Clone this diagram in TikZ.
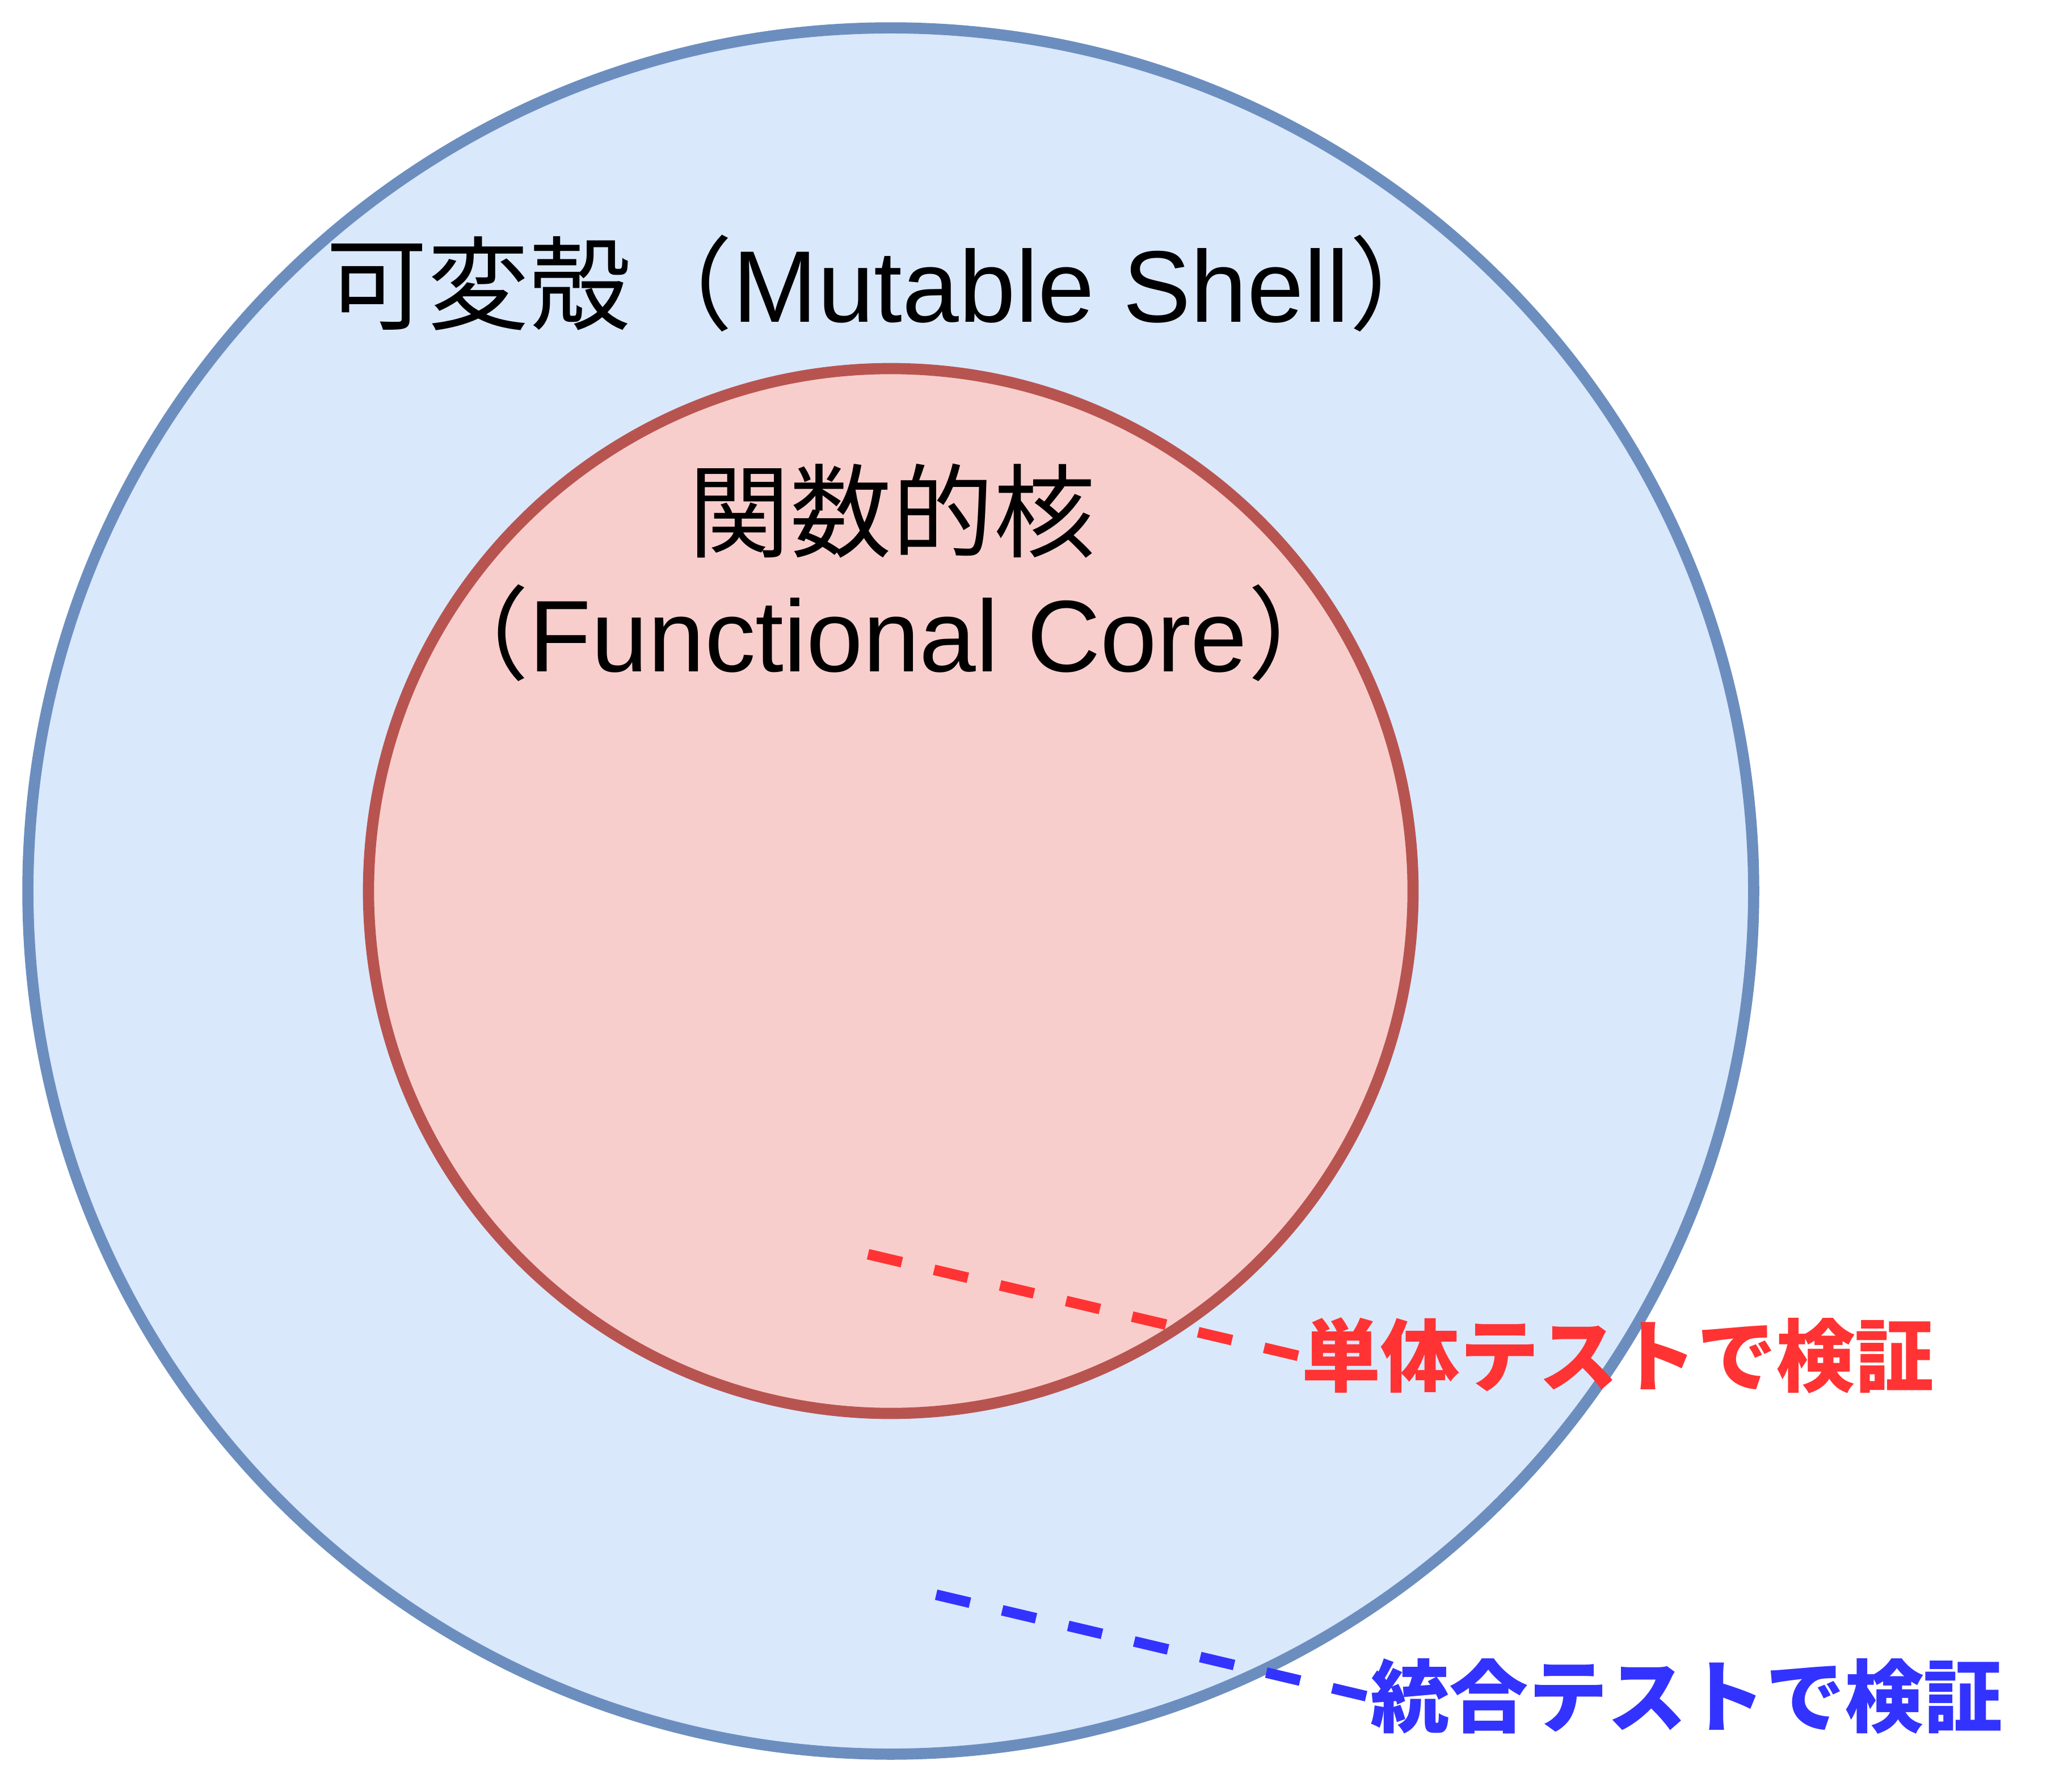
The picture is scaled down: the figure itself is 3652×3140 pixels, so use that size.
\documentclass[tikz,border=0pt]{standalone}
\usepackage{fontspec}
\setmainfont{Liberation Sans}
\newfontfamily\jpfont{Noto Sans CJK JP}
\definecolor{shellfill}{HTML}{DAE8FC}
\definecolor{shellline}{HTML}{6C8EBF}
\definecolor{corefill}{HTML}{F8CECC}
\definecolor{coreline}{HTML}{B85450}
\definecolor{unitred}{HTML}{FF3333}
\definecolor{integblue}{HTML}{3333FF}
\tikzset{
  ring/.style={circle, inner sep=0pt, outer sep=0pt, line width=5.6pt},
  bigtext/.style={inner sep=0pt, font=\fontsize{51}{61}\selectfont, text=black},
  testline/.style={line width=5.3pt, dash pattern=on 17.4pt off 16.6pt},
  testlabel/.style={anchor=west, inner sep=1.7pt, font=\jpfont\bfseries\fontsize{39.6}{48}\selectfont},
}
\begin{document}
\begin{tikzpicture}[x=0.01cm,y=-0.01cm]
\useasboundingbox (0,0) rectangle (3652,3140);
\fill[white] (0,0) rectangle (3652,3140);
% circles
\node (shell) [ring, draw=shellline, fill=shellfill, minimum size=30.40cm] at (1570,1570) {};
\node (core) [ring, draw=coreline, fill=corefill, minimum size=18.40cm] at (1570,1570) {};
% titles
\node (shelltitle) [bigtext, anchor=base] at (1566,568) {{\jpfont 可変殻（}Mutable Shell{\jpfont ）}};
\node (coretitle) [bigtext, anchor=base] at (1572,968) {\jpfont 関数的核};
\node (coretitleen) [bigtext, anchor=base] at (1566,1183) {{\jpfont （}Functional Core{\jpfont ）}};
% test lines
\coordinate (unitstart) at (1530,2210);
\node (unitlabel) [testlabel, text=unitred] at (2288,2389) {単体テストで検証};
\draw[testline, unitred] (unitstart) -- (unitlabel.west);
\coordinate (integstart) at (1650,2810);
\node (integlabel) [testlabel, text=integblue] at (2409,2989) {統合テストで検証};
\draw[testline, integblue] (integstart) -- (integlabel.west);
\end{tikzpicture}
\end{document}
